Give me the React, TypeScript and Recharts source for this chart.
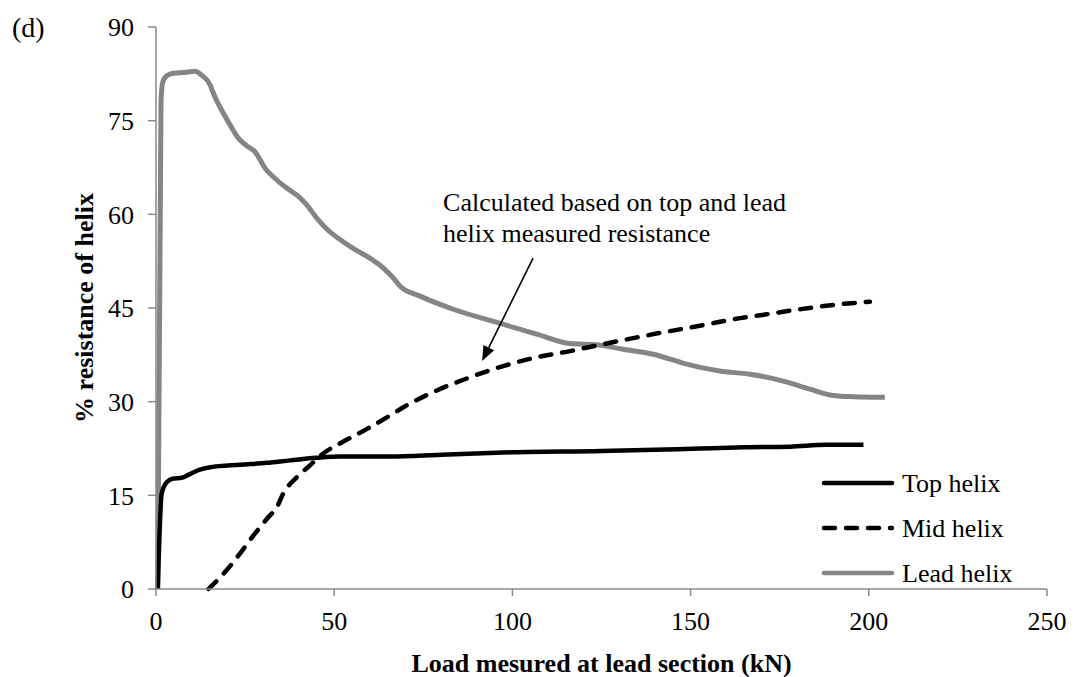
import { LineChart, Line, XAxis, YAxis, ReferenceLine } from 'recharts'

const topLoad = [0.5, 1.6, 3.0, 4.9, 7.2, 9.5, 12.3, 15.2, 23.6, 31.1, 37.6, 45.1, 51.6, 65.7, 80, 100, 125, 140, 152.6, 165, 178, 188, 198.5]
const topPct = [0, 15.3, 17.1, 17.7, 17.8, 18.4, 19.1, 19.5, 19.9, 20.2, 20.6, 21.0, 21.2, 21.2, 21.5, 21.9, 22.1, 22.3, 22.5, 22.7, 22.8, 23.1, 23.1]

const midLoad = [14.7, 19.8, 23.6, 27.8, 31.5, 33.9, 35.7, 39.5, 43.2, 46.9, 51.6, 59.1, 65.7, 69.4, 78.8, 88.1, 97.4, 106.8, 116.2, 125.5, 134.9, 144.2, 153, 162.0, 171.4, 180.7, 190.1, 200.3]
const midPct = [0, 3.0, 5.7, 8.9, 11.5, 13.1, 15.3, 17.9, 19.8, 21.7, 23.3, 25.6, 27.8, 29.1, 31.8, 33.9, 35.7, 37.1, 38.1, 39.2, 40.3, 41.3, 42.2, 43.2, 44.0, 44.8, 45.5, 46.0]

const leadLoad = [0.5, 1.4, 1.9, 3.0, 4.9, 7.7, 10.9, 12.8, 15.2, 16.1, 20.3, 23.1, 25.4, 27.8, 30.6, 33.9, 36.7, 39.9, 42.3, 45.1, 48, 52, 56, 60, 63.8, 66.6, 68.5, 74.1, 83.4, 95.6, 106.8, 116.2, 123.7, 131.1, 139.5, 148.9, 158.2, 166.7, 176.0, 183.5, 190.0, 195.7, 204.5]
const leadPct = [0, 78, 81.2, 82.2, 82.6, 82.7, 82.9, 82.3, 80.7, 79.4, 74.8, 72.2, 71.0, 70.0, 67.4, 65.5, 64.2, 62.9, 61.5, 59.4, 57.6, 55.8, 54.3, 53.0, 51.4, 49.8, 48.5, 46.9, 44.8, 42.7, 40.8, 39.3, 39.1, 38.4, 37.6, 36.0, 34.9, 34.4, 33.3, 32.0, 31.0, 30.8, 30.7]

const xTicks = [0, 50, 100, 150, 200, 250]
const yTicks = [0, 15, 30, 45, 60, 75, 90]

const toPoints = (xs: number[], ys: number[]) => xs.map((x, i) => ({ load: x, pct: ys[i] }))

const FONT = '"Liberation Serif", "Times New Roman", serif'
const AXIS = '#898989'
const GREY = '#858585'

const series = [
  { name: 'Top helix', color: '#000', dash: undefined as string | undefined },
  { name: 'Mid helix', color: '#000', dash: '11 11' },
  { name: 'Lead helix', color: GREY, dash: undefined as string | undefined },
]

// legend box in the lower right corner of the plot
function LegendBox({ x, y }: { x: number; y: number }) {
  return (
    <g>
      {series.map((s, i) => {
        const cy = y + i * 45
        return (
          <g key={s.name}>
            <line x1={x} y1={cy} x2={x + 68} y2={cy} stroke={s.color} strokeWidth={4.5}
              strokeDasharray={s.dash} strokeLinecap="round" />
            <text x={x + 78} y={cy} dy="0.33em" fontFamily={FONT} fontSize={26} fill="#000">{s.name}</text>
          </g>
        )
      })}
    </g>
  )
}

// arrow pointing at the mid-helix curve, with its note above
function NoteArrow(p: any) {
  const { x1, y1, x2, y2 } = p
  const ang = Math.atan2(y2 - y1, x2 - x1)
  const len = 15, half = 6
  const bx = x2 - len * Math.cos(ang)
  const by = y2 - len * Math.sin(ang)
  const head = `${x2},${y2} ${bx + half * Math.sin(ang)},${by - half * Math.cos(ang)} ${bx - half * Math.sin(ang)},${by + half * Math.cos(ang)}`
  return (
    <g>
      <line x1={x1} y1={y1} x2={bx} y2={by} stroke="#000" strokeWidth={1.6} />
      <polygon points={head} fill="#000" />
      <text x={x1 - 90} y={y1 - 47} fontFamily={FONT} fontSize={26} fill="#000">Calculated based on top and lead</text>
      <text x={x1 - 90} y={y1 - 16} fontFamily={FONT} fontSize={26} fill="#000">helix measured resistance</text>
    </g>
  )
}

export default function App() {
  return (
    <div style={{ position: 'absolute', left: 0, top: 0, width: 1078, height: 677, background: '#fff' }}>
      <LineChart width={1078} height={677} margin={{ top: 27, right: 31, bottom: 0, left: 80 }}>
        <XAxis
          type="number"
          dataKey="load"
          domain={[0, 250]}
          ticks={xTicks}
          height={88}
          stroke={AXIS}
          strokeWidth={1.5}
          tickSize={7}
          tickMargin={16}
          tick={{ fill: '#000', fontFamily: FONT, fontSize: 26 }}
          label={{
            content: (props: any) => {
              const vb = props.viewBox
              return (
                <text x={vb.x + vb.width / 2} y={vb.y + 83} textAnchor="middle"
                  fontFamily={FONT} fontSize={26} fontWeight="bold" fill="#000">
                  Load mesured at lead section (kN)
                </text>
              )
            },
          }}
        />
        <YAxis
          type="number"
          dataKey="pct"
          domain={[0, 90]}
          ticks={yTicks}
          width={76}
          stroke={AXIS}
          strokeWidth={1.5}
          tickSize={8}
          tickMargin={14}
          tick={{ fill: '#000', fontFamily: FONT, fontSize: 26 }}
          label={{
            content: (props: any) => {
              const vb = props.viewBox
              const cx = vb.x + 13
              const cy = vb.y + vb.height / 2
              return (
                <text x={cx} y={cy} transform={`rotate(-90 ${cx} ${cy})`} textAnchor="middle"
                  fontFamily={FONT} fontSize={26} fontWeight="bold" fill="#000">
                  % resistance of helix
                </text>
              )
            },
          }}
        />
        <Line data={toPoints(leadLoad, leadPct)} dataKey="pct" name="Lead helix" type="monotone"
          stroke={GREY} strokeWidth={5} dot={false} isAnimationActive={false} />
        <Line data={toPoints(topLoad, topPct)} dataKey="pct" name="Top helix" type="monotone"
          stroke="#000" strokeWidth={4.5} dot={false} isAnimationActive={false} />
        <Line data={toPoints(midLoad, midPct)} dataKey="pct" name="Mid helix" type="monotone"
          stroke="#000" strokeWidth={4.5} strokeDasharray="11 11" strokeLinecap="round"
          dot={false} isAnimationActive={false} />
        <ReferenceLine segment={[{ x: 105.8, y: 53.0 }, { x: 91.5, y: 36.5 }]} shape={NoteArrow} />
        <LegendBox x={824} y={483} />
        <text x={12} y={37} fontFamily={FONT} fontSize={28} fill="#000">(d)</text>
      </LineChart>
    </div>
  )
}
